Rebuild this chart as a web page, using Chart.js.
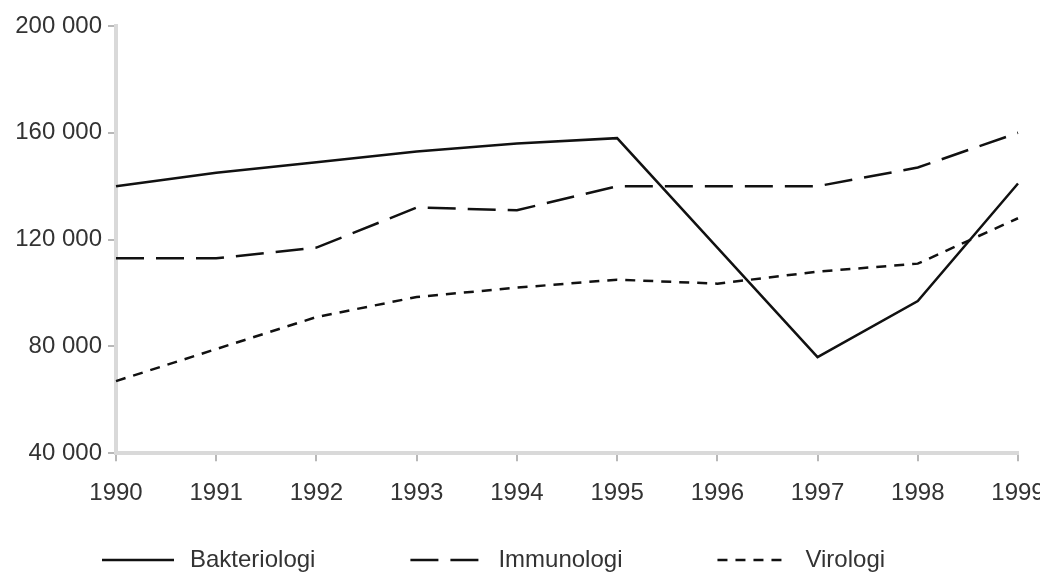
<!DOCTYPE html>
<html>
<head>
<meta charset="utf-8">
<script src="https://cdn.jsdelivr.net/npm/chart.js@4/dist/chart.umd.min.js"></script>
<style>
  html, body { margin: 0; padding: 0; background: #fff; }
  #wrap { width: 1040px; height: 573px; }
</style>
</head>
<body>
<div id="wrap"><canvas id="chart_lab"></canvas></div>
<script>
// data
var years = ['1990', '1991', '1992', '1993', '1994', '1995', '1996', '1997', '1998', '1999'];
var bakteriologi = [140000, 145000, 149000, 153000, 156000, 158000, 117000, 76000, 97000, 141000];
var immunologi = [113000, 113000, 117000, 132000, 131000, 140000, 140000, 140000, 147000, 160000];
var virologi = [67000, 79000, 91000, 98500, 102000, 105000, 103500, 108000, 111000, 128000];
var yTicks = [40000, 80000, 120000, 160000, 200000];

var fontFamily = '"Liberation Sans", Arial, sans-serif';

function spaced(v) {
  return String(v).replace(/\B(?=(\d{3})+(?!\d))/g, ' ');
}

// legend with dash samples, drawn under the axis
var dashLegend = {
  id: 'dashLegend',
  afterDraw: function(chart) {
    var ctx = chart.ctx;
    var y = 560;
    var x = 102;
    ctx.save();
    ctx.font = '24px ' + fontFamily;
    ctx.textBaseline = 'middle';
    chart.data.datasets.forEach(function(ds) {
      ctx.strokeStyle = ds.borderColor;
      ctx.lineWidth = 2.5;
      ctx.setLineDash(ds.borderDash || []);
      ctx.beginPath();
      ctx.moveTo(x, y);
      ctx.lineTo(x + 72, y);
      ctx.stroke();
      ctx.setLineDash([]);
      ctx.fillStyle = '#333';
      ctx.fillText(ds.label, x + 88, y);
      x += 88 + ctx.measureText(ds.label).width + 95;
    });
    ctx.restore();
  }
};

var config_lab = {
  type: 'line',
  data: {
    labels: years,
    datasets: [
      {
        label: 'Bakteriologi',
        data: bakteriologi,
        borderColor: '#111',
        borderWidth: 2.5,
        pointRadius: 0,
        fill: false,
      },
      {
        label: 'Immunologi',
        data: immunologi,
        borderColor: '#111',
        borderWidth: 2.5,
        borderDash: [28, 12],
        pointRadius: 0,
        fill: false,
      },
      {
        label: 'Virologi',
        data: virologi,
        borderColor: '#111',
        borderWidth: 2.5,
        borderDash: [10, 8],
        pointRadius: 0,
        fill: false,
      }
    ],
  },
  options: {
    responsive: true,
    maintainAspectRatio: false,
    animation: false,
    layout: {
      padding: { top: 26, right: 22, bottom: 47, left: 0 },
    },
    scales: {
      x: {
        offset: false,
        border: { color: '#d9d9d9', width: 4 },
        grid: {
          drawOnChartArea: false,
          tickLength: 8,
          color: '#b8b8b8',
          lineWidth: 2,
        },
        ticks: {
          color: '#333',
          padding: 18,
          maxRotation: 0,
          autoSkip: false,
          font: { family: fontFamily, size: 24 },
        },
        afterFit: function(s) {
          s.paddingRight = 0;
          s.paddingLeft = 0;
        },
      },
      y: {
        min: 40000,
        max: 200000,
        border: { color: '#d9d9d9', width: 4 },
        grid: {
          drawOnChartArea: false,
          tickLength: 8,
          color: '#b8b8b8',
          lineWidth: 2,
        },
        afterBuildTicks: function(s) {
          s.ticks = yTicks.map(function(v) { return { value: v }; });
        },
        afterFit: function(s) {
          s.width = 116;
        },
        ticks: {
          color: '#333',
          padding: 6,
          font: { family: fontFamily, size: 24 },
          callback: function(value) {
            return spaced(value);
          },
        },
      },
    },
    plugins: {
      legend: { display: false },
      tooltip: { enabled: false },
    },
  },
  plugins: [dashLegend],
};

var chart_lab = new Chart(document.getElementById('chart_lab'), config_lab);
</script>
</body>
</html>
